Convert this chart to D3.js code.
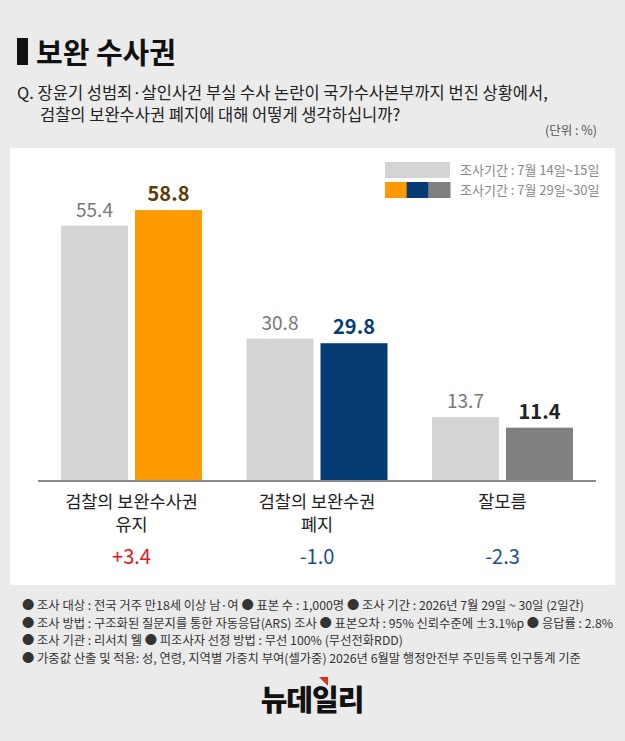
<!DOCTYPE html>
<html>
<head>
<meta charset="utf-8">
<script src="https://cdn.jsdelivr.net/npm/d3@7"></script>
<style>
  html, body { margin: 0; padding: 0; background: #ebebeb; }
  svg { display: block; font-family: "Noto Sans CJK KR", "Noto Sans", sans-serif; }
</style>
</head>
<body>
<svg id="chart"></svg>
<script>
// data
var categories = [["검찰의 보완수사권", "유지"], ["검찰의 보완수권", "폐지"], ["잘모름"]];
var prevValues = [55.4, 30.8, 13.7];
var currValues = [58.8, 29.8, 11.4];
var changes = ["+3.4", "-1.0", "-2.3"];
var periods = ["조사기간 : 7월 14일~15일", "조사기간 : 7월 29일~30일"];
var currColors = ["#ff9900", "#063c74", "#808080"];
var currLabelColors = ["#5e3c06", "#063c74", "#222222"];
var changeColors = ["#e4151f", "#1d4f8a", "#1d4f8a"];
var footnotes = [
  "● 조사 대상 : 전국 거주 만18세 이상 남·여  ● 표본 수 : 1,000명 ● 조사 기간 : 2026년 7월 29일 ~ 30일 (2일간)",
  "● 조사 방법 : 구조화된 질문지를 통한 자동응답(ARS) 조사 ● 표본오차 : 95% 신뢰수준에 ±3.1%p  ● 응답률 : 2.8%",
  "● 조사 기관 : 리서치 웰  ● 피조사자 선정 방법 : 무선 100% (무선전화RDD)",
  "● 가중값 산출 및 적용: 성, 연령, 지역별 가중치 부여(셀가중) 2026년 6월말 행정안전부 주민등록 인구통계 기준"
];

var width = 625, height = 741;
var svg = d3.select("#chart").attr("width", width).attr("height", height);

svg.append("rect").attr("width", width).attr("height", height).attr("fill", "#ebebeb");

// Title
svg.append("rect").attr("x", 17).attr("y", 38).attr("width", 11).attr("height", 27).attr("fill", "#111");
svg.append("text").attr("x", 36).attr("y", 64)
    .style("font-size", "29px").style("font-weight", 700).attr("fill", "#111")
    .text("보완 수사권");

// Question
svg.append("text").attr("x", 17).attr("y", 99)
    .style("font-size", "16.5px").attr("fill", "#222")
    .text("Q. 장윤기 성범죄·살인사건 부실 수사 논란이 국가수사본부까지 번진 상황에서,");
svg.append("text").attr("x", 40).attr("y", 121)
    .style("font-size", "16.5px").attr("fill", "#222")
    .text("검찰의 보완수사권 폐지에 대해 어떻게 생각하십니까?");
svg.append("text").attr("x", 597).attr("y", 135)
    .style("font-size", "12.5px").style("text-anchor", "end").attr("fill", "#555")
    .text("(단위 : %)");

// White panel
svg.append("rect").attr("x", 10).attr("y", 148).attr("width", 605).attr("height", 437).attr("fill", "#fff");

// Legend
svg.append("rect").attr("x", 385).attr("y", 162).attr("width", 65).attr("height", 16).attr("fill", "#d4d4d4");
currColors.forEach(function(c, i) {
  svg.append("rect").attr("x", 385 + i * 65 / 3).attr("y", 182).attr("width", 65 / 3 + 0.5).attr("height", 16).attr("fill", c);
});
periods.forEach(function(p, i) {
  svg.append("text").attr("x", 460).attr("y", 175 + i * 20)
      .style("font-size", "13px").attr("fill", "#888").text(p);
});

// Scales
var x = d3.scaleBand()
    .domain(d3.range(categories.length))
    .range([38.75, 595.25])
    .padding(0);

var xInner = d3.scaleBand()
    .domain(["prev", "curr"])
    .range([22.25, 163.25])
    .paddingInner(7 / 74);

var y = d3.scaleLinear()
    .domain([0, 60])
    .range([480, 204.6]);

var groups = svg.selectAll(".group")
    .data(categories)
  .enter().append("g")
    .attr("class", "group")
    .attr("transform", function(d, i) { return "translate(" + x(i) + ",0)"; });

// previous survey bars
groups.append("rect")
    .attr("x", xInner("prev"))
    .attr("width", xInner.bandwidth())
    .attr("y", function(d, i) { return y(prevValues[i]); })
    .attr("height", function(d, i) { return y(0) - y(prevValues[i]); })
    .attr("fill", "#d4d4d4");

// current survey bars
groups.append("rect")
    .attr("x", xInner("curr"))
    .attr("width", xInner.bandwidth())
    .attr("y", function(d, i) { return y(currValues[i]); })
    .attr("height", function(d, i) { return y(0) - y(currValues[i]); })
    .attr("fill", function(d, i) { return currColors[i]; });

// value labels
groups.append("text")
    .attr("x", xInner("prev") + xInner.bandwidth() / 2)
    .attr("y", function(d, i) { return y(prevValues[i]) - 9; })
    .style("text-anchor", "middle").style("font-size", "19px")
    .attr("fill", "#777")
    .text(function(d, i) { return prevValues[i].toFixed(1); });

groups.append("text")
    .attr("x", xInner("curr") + xInner.bandwidth() / 2)
    .attr("y", function(d, i) { return y(currValues[i]) - 9; })
    .style("text-anchor", "middle").style("font-size", "20px").style("font-weight", 600)
    .attr("fill", function(d, i) { return currLabelColors[i]; })
    .text(function(d, i) { return currValues[i].toFixed(1); });

// axis line
svg.append("line")
    .attr("x1", 38).attr("x2", 596)
    .attr("y1", y(0) + 1).attr("y2", y(0) + 1)
    .attr("stroke", "#8a8a8a").attr("stroke-width", 2);

// category labels
groups.each(function(d, i) {
  var g = d3.select(this);
  d.forEach(function(line, j) {
    g.append("text")
        .attr("x", x.bandwidth() / 2)
        .attr("y", 508 + j * 23)
        .style("text-anchor", "middle").style("font-size", "17.5px")
        .attr("fill", "#222")
        .text(line);
  });
  g.append("text")
      .attr("x", x.bandwidth() / 2)
      .attr("y", 564)
      .style("text-anchor", "middle").style("font-size", "20px")
      .attr("fill", changeColors[i])
      .text(changes[i]);
});

// footnotes
footnotes.forEach(function(t, i) {
  svg.append("text").attr("x", 22).attr("y", 610 + i * 17.7)
      .style("font-size", "12.3px").attr("fill", "#333")
      .text(t);
});

// logo
svg.append("text").attr("x", 312).attr("y", 711)
    .style("text-anchor", "middle").style("font-size", "29px").style("font-weight", 900)
    .style("letter-spacing", "-1px").attr("fill", "#111")
    .text("뉴데일리");
svg.append("path")
    .attr("d", "M319,677 L328,677 L328,686 Z")
    .attr("fill", "#e0301e");
</script>
</body>
</html>
